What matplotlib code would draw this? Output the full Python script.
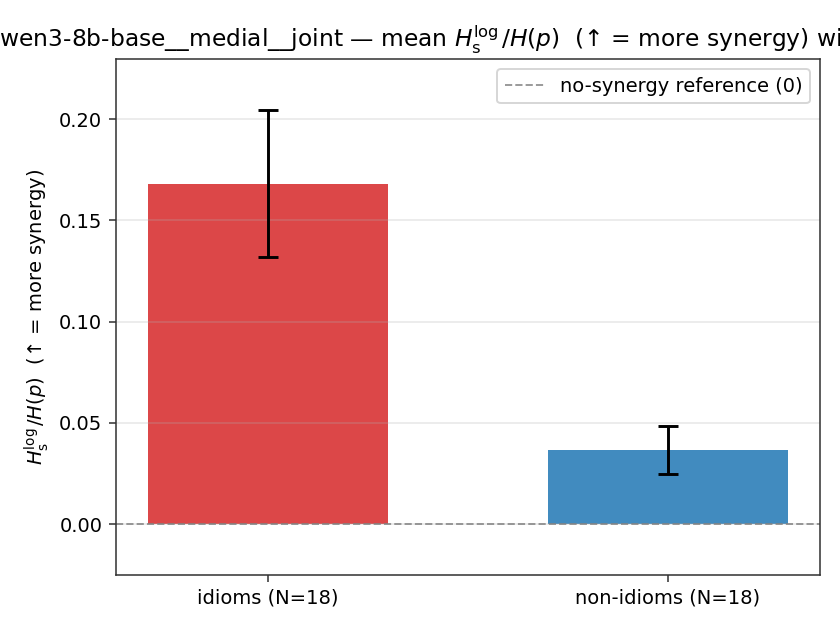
import matplotlib
matplotlib.use("Agg")
import matplotlib.pyplot as plt
import numpy as np

DPI = 140

# group labels and values
groups = ["idioms (N=18)", "non-idioms (N=18)"]
means = [0.168, 0.0365]
ci_low = [0.132, 0.0247]
ci_high = [0.2044, 0.0484]
colors = ["#d62728", "#1f77b4"]

TITLE = (r"Qwen3-8b-base__medial__joint — mean $H_{\mathrm{s}}^{\log}/H(p)$"
         r"  (↑ = more synergy) with 95% CI")
YLABEL = r"$H_{\mathrm{s}}^{\log}/H(p)$  (↑ = more synergy)"


def main():
    plt.rcParams["axes.edgecolor"] = "#333333"
    plt.rcParams["xtick.color"] = "#333333"
    plt.rcParams["ytick.color"] = "#333333"
    plt.rcParams["xtick.labelcolor"] = "black"
    plt.rcParams["ytick.labelcolor"] = "black"

    fig, ax = plt.subplots(figsize=(6.0, 4.5), dpi=DPI)
    fig.subplots_adjust(left=0.138, right=0.976, top=0.906, bottom=0.087)

    x = np.arange(len(groups))
    m = np.array(means)
    yerr = np.array([m - np.array(ci_low), np.array(ci_high) - m])

    ax.bar(x, m, width=0.6, color=colors, alpha=0.85)
    ax.errorbar(x, m, yerr=yerr, fmt="none", ecolor="black",
                elinewidth=1.5, capsize=5, capthick=1.5)
    ax.axhline(0, color="gray", linestyle="--", linewidth=1, alpha=0.8,
               label="no-synergy reference (0)")

    ax.set_xticks(x)
    ax.set_xticklabels(groups)
    ax.set_ylim(-0.0252, 0.2296)
    ax.set_yticks([0.0, 0.05, 0.10, 0.15, 0.20])
    ax.yaxis.set_major_formatter(matplotlib.ticker.FormatStrFormatter("%.2f"))
    ax.grid(axis="y", alpha=0.3)
    ax.set_ylabel(YLABEL)
    ax.set_title(TITLE, fontsize=12)
    ax.legend(loc="upper right")

    fig.savefig("out.png", dpi=DPI)


if __name__ == "__main__":
    main()
